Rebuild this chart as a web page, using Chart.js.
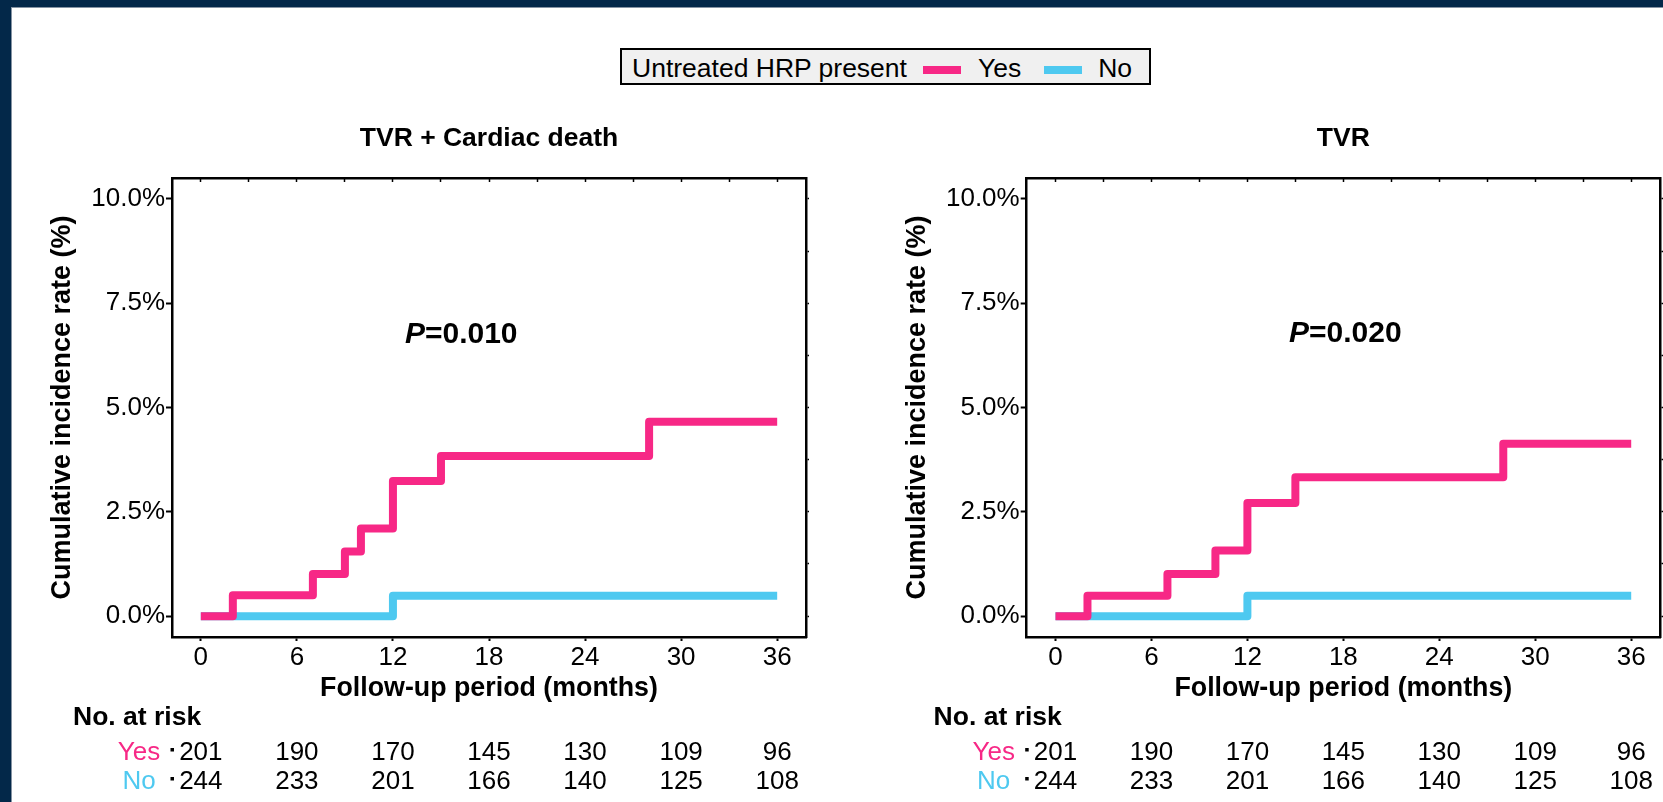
<!DOCTYPE html>
<html>
<head>
<meta charset="utf-8">
<script src="https://cdn.jsdelivr.net/npm/chart.js@4.4.1/dist/chart.umd.min.js"></script>
<style>
  html, body { margin: 0; padding: 0; }
  body {
    width: 1663px; height: 802px; position: relative; overflow: hidden;
    background: #032849;
    font-family: "Liberation Sans", Arial, sans-serif;
  }
  #sheet {
    position: absolute; left: 11px; top: 7px; right: 0; bottom: 0;
    background: #fff;
    border-left: 1px solid #8593a3; border-top: 1px solid #8593a3;
  }
  canvas { position: absolute; top: 0; }
  #leftChart { left: 0; }
  #rightChart { left: 830px; }
  #legend {
    position: absolute; left: 620px; top: 48px; width: 531px; height: 37px;
    box-sizing: border-box; border: 2px solid #000; background: #f0f0f0;
    display: flex; align-items: center; padding-left: 10px;
    font-size: 26.5px; color: #000; white-space: nowrap;
  }
  #legend .txt { position: relative; top: 2px; }
  #legend .sw { display: inline-block; width: 38px; height: 8px; position: relative; top: 3px; }
</style>
</head>
<body>
<div id="sheet"></div>
<div id="legend"></div>
<canvas id="leftChart" width="830" height="802"></canvas>
<canvas id="rightChart" width="833" height="802"></canvas>

<script>
const groups = ['Yes', 'No'];
const groupColors = ['#f72886', '#4ec9f0'];
const legendTitle = 'Untreated HRP present';

const monthTicks = [0, 6, 12, 18, 24, 30, 36];
const quarterMonthTicks = [0, 3, 6, 9, 12, 15, 18, 21, 24, 27, 30, 33, 36];
const rateTicks = [0, 2.5, 5, 7.5, 10];
const minorRateTicks = [0, 1.25, 2.5, 3.75, 5, 6.25, 7.5, 8.75, 10];

// TVR + Cardiac death
const cdYesMonths = [0, 2, 7, 9, 10, 12, 15, 28, 36];
const cdYesRates  = [0, 0.50, 1.01, 1.55, 2.10, 3.24, 3.84, 4.66, 4.66];
const cdNoMonths  = [0, 12, 36];
const cdNoRates   = [0, 0.49, 0.49];

// TVR
const tvrYesMonths = [0, 2, 7, 10, 12, 15, 28, 36];
const tvrYesRates  = [0, 0.49, 1.01, 1.57, 2.71, 3.33, 4.13, 4.13];
const tvrNoMonths  = [0, 12, 36];
const tvrNoRates   = [0, 0.49, 0.49];

// numbers at risk at each month tick
const riskYes = [201, 190, 170, 145, 130, 109, 96];
const riskNo  = [244, 233, 201, 166, 140, 125, 108];

const FONT = '"Liberation Sans", Arial, sans-serif';
Chart.defaults.font.family = FONT;
Chart.defaults.color = '#000';

// legend shared by both panels
document.getElementById('legend').innerHTML =
  '<span class="txt">' + legendTitle + '</span>' +
  groups.map((g, i) =>
    '<span class="sw" style="background:' + groupColors[i] + ';margin-left:' + (i == 0 ? 16 : 23) + 'px"></span>' +
    '<span class="txt" style="margin-left:' + (i == 0 ? 17 : 16) + 'px">' + g + '</span>'
  ).join('');

// P value + number-at-risk table, drawn against the chart's own x scale
const extras = {
  id: 'extras',
  afterDraw(chart, args, opts) {
    const {ctx, chartArea} = chart;
    const xs = chart.scales.x, ys = chart.scales.y;
    ctx.save();
    ctx.fillStyle = '#000';
    ctx.textBaseline = 'middle';

    ctx.textAlign = 'left';
    let px = xs.getPixelForValue(opts.pAt[0]);
    const py = ys.getPixelForValue(opts.pAt[1]);
    ctx.font = 'italic bold 30px ' + FONT;
    ctx.fillText('P', px, py);
    px += ctx.measureText('P').width;
    ctx.font = 'bold 30px ' + FONT;
    ctx.fillText('=' + opts.p, px, py);

    ctx.font = 'bold 26.5px ' + FONT;
    ctx.fillText('No. at risk', opts.headX, 718);

    ctx.font = '26px ' + FONT;
    ctx.textAlign = 'center';
    [riskYes, riskNo].forEach((row, r) => {
      const ry = opts.rowY[r];
      ctx.fillStyle = groupColors[r];
      ctx.fillText(groups[r], chartArea.left - 33, ry);
      ctx.fillStyle = '#000';
      ctx.fillRect(chartArea.left - 1.5, ry - 5, 3.5, 3.5);
      row.forEach((n, i) => ctx.fillText(String(n), xs.getPixelForValue(monthTicks[i]), ry));
    });
    ctx.restore();
  }
};

function steps(months, rates) {
  return months.map((m, i) => ({x: m, y: rates[i]}));
}

function makeChart(id, title, yesData, noData, p, pAt, yWidth, yTitlePad, rightWidth, headX) {
  const axisBorder = {color: '#000', width: 2.5};
  return new Chart(document.getElementById(id), {
    type: 'line',
    data: {
      datasets: [
        {label: groups[0], data: yesData, borderColor: groupColors[0]},
        {label: groups[1], data: noData, borderColor: groupColors[1]}
      ]
    },
    options: {
      responsive: false,
      animation: false,
      devicePixelRatio: 1,
      layout: {padding: {left: 0, right: 0, top: 0, bottom: 95}},
      elements: {
        line: {borderWidth: 8, stepped: true, tension: 0, fill: false,
               borderJoinStyle: 'round', borderCapStyle: 'butt'},
        point: {radius: 0, hoverRadius: 0}
      },
      scales: {
        x: {
          type: 'linear', position: 'bottom', min: -1.8, max: 37.8,
          afterBuildTicks: s => { s.ticks = monthTicks.map(v => ({value: v})); },
          afterFit: s => { s.height = 70; },
          ticks: {font: {size: 26, lineHeight: 1.2}, padding: 1.4, maxRotation: 0,
                  autoSkip: false, callback: v => String(v)},
          grid: {drawOnChartArea: false, tickLength: 4, color: '#000', tickWidth: 2},
          border: axisBorder,
          title: {display: true, text: 'Follow-up period (months)',
                  font: {size: 26.8, weight: 'bold', lineHeight: 1.2},
                  padding: {top: 0, bottom: 2.2}}
        },
        x2: {
          type: 'linear', position: 'top', min: -1.8, max: 37.8,
          afterBuildTicks: s => { s.ticks = quarterMonthTicks.map(v => ({value: v})); },
          afterFit: s => { s.height = 0; },
          ticks: {display: false},
          grid: {drawOnChartArea: false, tickLength: -4, color: '#000', tickWidth: 1.5},
          border: axisBorder
        },
        y: {
          type: 'linear', position: 'left', min: -0.5, max: 10.5,
          afterBuildTicks: s => { s.ticks = rateTicks.map(v => ({value: v})); },
          afterFit: s => { s.width = yWidth; },
          ticks: {font: {size: 26}, padding: 1, callback: v => v.toFixed(1) + '%'},
          grid: {drawOnChartArea: false, tickLength: 6, color: '#000', tickWidth: 2},
          border: axisBorder,
          title: {display: true, text: 'Cumulative incidence rate (%)',
                  font: {size: 27, weight: 'bold', lineHeight: 1.2},
                  padding: {top: yTitlePad, bottom: 0}}
        },
        y2: {
          type: 'linear', position: 'right', min: -0.5, max: 10.5,
          afterBuildTicks: s => { s.ticks = minorRateTicks.map(v => ({value: v})); },
          afterFit: s => { s.width = rightWidth; },
          ticks: {display: false},
          grid: {drawOnChartArea: false, tickLength: 3, color: '#000', tickWidth: 1.5},
          border: axisBorder
        }
      },
      plugins: {
        legend: {display: false},
        tooltip: {enabled: false},
        title: {
          display: true, text: title, fullSize: false, color: '#000',
          font: {size: 26.5, weight: 'bold', lineHeight: 1.2},
          padding: {top: 123, bottom: 23.2}
        },
        extras: {p: p, pAt: pAt, headX: headX, rowY: [753, 782]}
      }
    },
    plugins: [extras]
  });
}

makeChart('leftChart', 'TVR + Cardiac death',
  steps(cdYesMonths, cdYesRates), steps(cdNoMonths, cdNoRates),
  '0.010', [12.75, 6.74], 172, 46.8, 24, 73);

makeChart('rightChart', 'TVR',
  steps(tvrYesMonths, tvrYesRates), steps(tvrNoMonths, tvrNoRates),
  '0.020', [14.6, 6.77], 196.7, 71.3, 3, 103.6);
</script>
</body>
</html>
